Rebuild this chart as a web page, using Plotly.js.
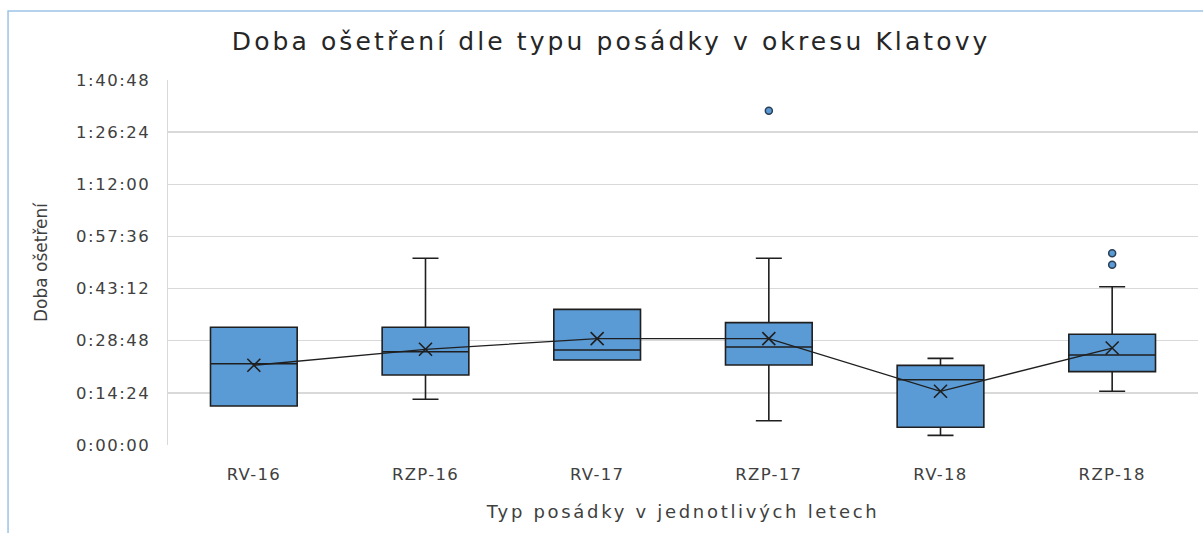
<!DOCTYPE html>
<html>
<head>
<meta charset="utf-8">
<script src="https://cdn.plot.ly/plotly-3.0.1.min.js"></script>
<style>
html,body{margin:0;padding:0;background:#fff;}
#chart{width:1203px;height:533px;}
#chart .gtitle{letter-spacing:3.1px;}
#chart .xtitle{letter-spacing:2.7px;}
#chart .xtick text{letter-spacing:1.3px;}
#chart .ytick text{letter-spacing:1.5px;}
</style>
</head>
<body>
<div id="chart"></div>
<script>
// Categories
const categories = ["RV-16", "RZP-16", "RV-17", "RZP-17", "RV-18", "RZP-18"];
// Box statistics (h:mm:ss)
const minValues    = ["0:10:46", "0:12:37", "0:23:28", "0:06:43", "0:02:40", "0:14:50"];
const q1Values     = ["0:10:46", "0:19:20", "0:23:28", "0:22:06", "0:04:53", "0:20:15"];
const medianValues = ["0:22:27", "0:25:46", "0:26:14", "0:27:04", "0:18:02", "0:24:51"];
const q3Values     = ["0:32:30", "0:32:30", "0:37:28", "0:33:47", "0:22:00", "0:30:34"];
const maxValues    = ["0:32:30", "0:51:34", "0:37:28", "0:51:34", "0:23:56", "0:43:43"];
const meanValues   = ["0:22:01", "0:26:26", "0:29:22", "0:29:22", "0:14:50", "0:26:47"];
// Outliers
const outlierCategories = ["RZP-17", "RZP-18", "RZP-18"];
const outlierValues     = ["1:32:20", "0:52:56", "0:49:48"];
// Y-axis tick labels
const yTickLabels = ["0:00:00", "0:14:24", "0:28:48", "0:43:12", "0:57:36", "1:12:00", "1:26:24", "1:40:48"];

function toSec(s) {
  const p = s.split(":").map(Number);
  return p[0] * 3600 + p[1] * 60 + p[2];
}
const yTickVals = yTickLabels.map(toSec);

const FONT = "DejaVu Sans, Liberation Sans, sans-serif";
const TXT = "#404040";

const boxTrace = {
  type: "box",
  x: categories,
  q1: q1Values.map(toSec),
  median: medianValues.map(toSec),
  q3: q3Values.map(toSec),
  lowerfence: minValues.map(toSec),
  upperfence: maxValues.map(toSec),
  fillcolor: "#5B9BD5",
  line: {color: "#1f1f1f", width: 1.6},
  whiskerwidth: 0.3,
  boxpoints: false,
  hoverinfo: "skip",
  showlegend: false
};

const meanTrace = {
  type: "scatter",
  mode: "lines+markers",
  x: categories,
  y: meanValues.map(toSec),
  line: {color: "#1f1f1f", width: 1.3},
  marker: {symbol: "x-thin-open", size: 13, line: {color: "#1f1f1f", width: 1.6}, color: "#1f1f1f"},
  hoverinfo: "skip",
  showlegend: false
};

const outlierTrace = {
  type: "scatter",
  mode: "markers",
  x: outlierCategories,
  y: outlierValues.map(toSec),
  marker: {symbol: "circle", size: 7, color: "#5B9BD5", line: {color: "#2a3f55", width: 1.5}},
  hoverinfo: "skip",
  showlegend: false
};

const layout = {
  width: 1203,
  height: 533,
  margin: {l: 168, r: 5, t: 80, b: 88},
  paper_bgcolor: "#ffffff",
  plot_bgcolor: "#ffffff",
  boxgap: 0.495,
  boxgroupgap: 0,
  showlegend: false,
  font: {family: FONT, color: TXT},
  title: {
    text: "Doba ošetření dle typu posádky v okresu Klatovy",
    font: {family: FONT, size: 25, color: "#262626"},
    xref: "container", x: 0.508, xanchor: "center",
    yref: "container", y: 0.923, yanchor: "middle"
  },
  xaxis: {
    type: "category",
    categoryorder: "array",
    categoryarray: categories,
    showgrid: false,
    showline: false,
    zeroline: false,
    ticks: "outside", ticklen: 14, tickcolor: "rgba(0,0,0,0)",
    tickfont: {family: FONT, size: 16.5, color: TXT},
    title: {text: "Typ posádky v jednotlivých letech", font: {family: FONT, size: 18, color: TXT}, standoff: 22}
  },
  yaxis: {
    range: [0, 6048],
    tickvals: yTickVals,
    ticktext: yTickLabels,
    showgrid: true,
    gridcolor: "#d9d9d9",
    gridwidth: 1.5,
    showline: true,
    linecolor: "#d9d9d9",
    linewidth: 1.5,
    zeroline: false,
    ticks: "outside", ticklen: 13, tickcolor: "rgba(0,0,0,0)",
    tickfont: {family: FONT, size: 16.5, color: TXT},
    title: {text: "Doba ošetření", font: {family: FONT, size: 17, color: TXT}, standoff: 34}
  },
  shapes: [{
    type: "rect", xref: "paper", yref: "paper",
    x0: -0.1553, x1: 1.02, y0: -0.3, y1: 1.189,
    line: {color: "#9DC3E6", width: 1.5},
    fillcolor: "rgba(0,0,0,0)",
    layer: "below"
  }]
};

Plotly.newPlot("chart", [boxTrace, meanTrace, outlierTrace], layout, {displayModeBar: false, staticPlot: true});
</script>
</body>
</html>
